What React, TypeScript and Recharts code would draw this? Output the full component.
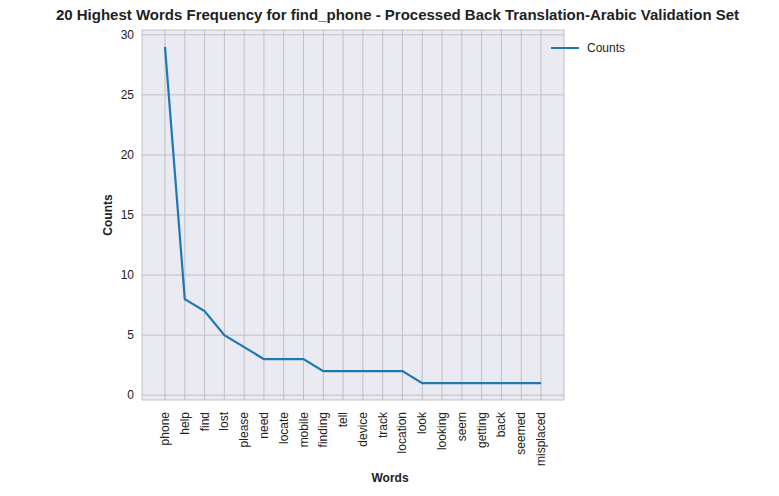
import { LineChart, Line, XAxis, YAxis, CartesianGrid, Legend } from 'recharts';

const words = ['phone', 'help', 'find', 'lost', 'please', 'need', 'locate', 'mobile', 'finding', 'tell',
  'device', 'track', 'location', 'look', 'looking', 'seem', 'getting', 'back', 'seemed', 'misplaced'];
const counts = [29, 8, 7, 5, 4, 3, 3, 3, 2, 2, 2, 2, 2, 1, 1, 1, 1, 1, 1, 1];
const yTicks = [0, 5, 10, 15, 20, 25, 30];

const data = words.map((w, i) => ({ word: w, Counts: counts[i] }));

const XTick = (props: any) => {
  const { x, y, payload } = props;
  return (
    <text x={x} y={y + 4} transform={`rotate(-90 ${x} ${y + 4})`} textAnchor="end" dominantBaseline="central"
      fontSize={12} fill="#222">{payload.value}</text>
  );
};

export default function App() {
  document.body.style.margin = '0';
  return (
    <div style={{ position: 'relative', width: 779, height: 496, fontFamily: 'Arial, "Liberation Sans", sans-serif', background: '#fff' }}>
      <div style={{ position: 'absolute', top: 6, left: 0, width: 779, textAlign: 'center', fontWeight: 'bold', fontSize: 15, color: '#222', paddingLeft: 16, boxSizing: 'border-box' }}>
        20 Highest Words Frequency for find_phone - Processed Back Translation-Arabic Validation Set
      </div>
      <div style={{ position: 'absolute', top: 471, left: 142, width: 496, textAlign: 'center', fontWeight: 'bold', fontSize: 12, color: '#222' }}>Words</div>
      <div style={{ position: 'absolute', left: 108, top: 215, transform: 'translate(-50%,-50%) rotate(-90deg)', fontWeight: 'bold', fontSize: 12, color: '#222' }}>Counts</div>
      <LineChart width={779} height={496} data={data} margin={{ top: 30, right: 141, bottom: 0, left: 0 }}>
        <CartesianGrid stroke="#c0c0c0" strokeWidth={1} fill="#eaeaf2" fillOpacity={1} />
        <XAxis dataKey="word" interval={0} tick={<XTick />} tickLine={false} axisLine={false} padding={{ left: 23, right: 23 }} height={96} />
        <YAxis type="number" domain={[-0.4, 30.4]} ticks={yTicks} width={142} tick={{ fontSize: 12, fill: '#222' }} tickLine={false} axisLine={false} />
        <Legend verticalAlign="top" align="right" layout="vertical"
          content={() => (
            <div style={{ display: 'flex', alignItems: 'center', fontSize: 12, color: '#222' }}>
              <span style={{ display: 'inline-block', width: 28, height: 2, background: '#1f77b4', marginRight: 8 }} />Counts
            </div>
          )}
          wrapperStyle={{ top: 41, right: 154, left: 'auto', width: 'auto' }} />
        <Line dataKey="Counts" stroke="#1f77b4" strokeWidth={2.2} dot={false} isAnimationActive={false} />
      </LineChart>
    </div>
  );
}
